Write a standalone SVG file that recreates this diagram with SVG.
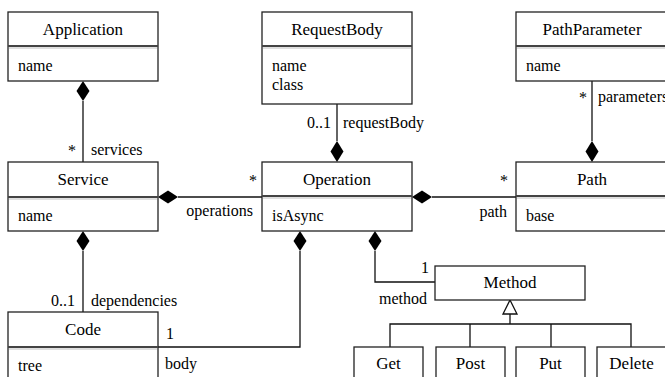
<svg xmlns="http://www.w3.org/2000/svg" width="665" height="377" viewBox="0 0 665 377" font-family="Liberation Serif, Times New Roman, serif">
<rect width="665" height="377" fill="#fff"/>

<g id="connectors">
<g fill="none" stroke="#111" stroke-width="1.3">
<path d="M83,101 V162"/>
<path d="M337,104 V141"/>
<path d="M592,81 V141"/>
<path d="M178,197 H262"/>
<path d="M432,197 H516"/>
<path d="M83,251 V312"/>
<path d="M300,251 V347 H158"/>
<path d="M375,251 V282 H435"/>
<path d="M510,314 V324"/>
<path d="M390,347 V324 H631 V347 M470,324 V347 M551,324 V347"/>
</g>
<g fill="#000">
<polygon points="83,81 89.5,91 83,101 76.5,91"/>
<polygon points="337,162 343.5,151.5 337,141 330.5,151.5"/>
<polygon points="592,162 598.5,151.5 592,141 585.5,151.5"/>
<polygon points="158,197 168,190.5 178,197 168,203.5"/>
<polygon points="412,197 422,190.5 432,197 422,203.5"/>
<polygon points="83,231 89.5,241 83,251 76.5,241"/>
<polygon points="300,231 306.5,241 300,251 293.5,241"/>
<polygon points="375,231 381.5,241 375,251 368.5,241"/>
</g>
<polygon points="510,300 517,314 503,314" fill="#fff" stroke="#111" stroke-width="1.3"/>
<text x="76" y="156" font-family="Liberation Serif" font-size="16" text-anchor="end">*</text>
<text x="331" y="128" font-family="Liberation Serif" font-size="16" text-anchor="end">0..1</text>
<text x="587" y="103" font-family="Liberation Serif" font-size="16" text-anchor="end">*</text>
<text x="257" y="186" font-family="Liberation Serif" font-size="16" text-anchor="end">*</text>
<text x="253" y="216" font-family="Liberation Serif" font-size="16" text-anchor="end">operations</text>
<text x="508" y="186" font-family="Liberation Serif" font-size="16" text-anchor="end">*</text>
<text x="507" y="217" font-family="Liberation Serif" font-size="16" text-anchor="end">path</text>
<text x="75" y="306" font-family="Liberation Serif" font-size="16" text-anchor="end">0..1</text>
<text x="427" y="304" font-family="Liberation Serif" font-size="16" text-anchor="end">method</text>
<text x="91" y="155" font-family="Liberation Serif" font-size="16">services</text>
<text x="343" y="128" font-family="Liberation Serif" font-size="16">requestBody</text>
<text x="598" y="102" font-family="Liberation Serif" font-size="16">parameters</text>
<text x="91" y="306" font-family="Liberation Serif" font-size="16">dependencies</text>
<text x="166" y="339" font-family="Liberation Serif" font-size="16">1</text>
<text x="165" y="369" font-family="Liberation Serif" font-size="16">body</text>
<text x="421" y="273" font-family="Liberation Serif" font-size="16">1</text>
</g>

<g id="Application">
<rect x="8" y="12" width="150" height="69" fill="#fff" stroke="#222" stroke-width="1.3"/>
<line x1="8" y1="46" x2="158" y2="46" stroke="#444" stroke-width="2"/><line x1="9" y1="48" x2="157" y2="48" stroke="#d4d4d4" stroke-width="1.5"/>
<text x="83" y="35" font-family="Liberation Serif" font-size="17" text-anchor="middle">Application</text>
<text x="18" y="71" font-family="Liberation Serif" font-size="16">name</text>
</g>

<g id="RequestBody">
<rect x="262" y="12" width="150" height="92" fill="#fff" stroke="#222" stroke-width="1.3"/>
<line x1="262" y1="46" x2="412" y2="46" stroke="#444" stroke-width="2"/><line x1="263" y1="48" x2="411" y2="48" stroke="#d4d4d4" stroke-width="1.5"/>
<text x="337" y="35" font-family="Liberation Serif" font-size="17" text-anchor="middle">RequestBody</text>
<text x="272" y="71" font-family="Liberation Serif" font-size="16">name</text>
<text x="272" y="90" font-family="Liberation Serif" font-size="16">class</text>
</g>

<g id="PathParameter">
<rect x="516" y="12" width="151" height="69" fill="#fff" stroke="#222" stroke-width="1.3"/>
<line x1="516" y1="46" x2="667" y2="46" stroke="#444" stroke-width="2"/><line x1="517" y1="48" x2="667" y2="48" stroke="#d4d4d4" stroke-width="1.5"/>
<text x="592" y="35" font-family="Liberation Serif" font-size="17" text-anchor="middle">PathParameter</text>
<text x="526" y="71" font-family="Liberation Serif" font-size="16">name</text>
</g>

<g id="Service">
<rect x="8" y="162" width="150" height="69" fill="#fff" stroke="#222" stroke-width="1.3"/>
<line x1="8" y1="197" x2="158" y2="197" stroke="#444" stroke-width="2"/><line x1="9" y1="199" x2="157" y2="199" stroke="#d4d4d4" stroke-width="1.5"/>
<text x="83" y="185" font-family="Liberation Serif" font-size="17" text-anchor="middle">Service</text>
<text x="18" y="221" font-family="Liberation Serif" font-size="16">name</text>
</g>

<g id="Operation">
<rect x="262" y="162" width="150" height="69" fill="#fff" stroke="#222" stroke-width="1.3"/>
<line x1="262" y1="196" x2="412" y2="196" stroke="#444" stroke-width="2"/><line x1="263" y1="198" x2="411" y2="198" stroke="#d4d4d4" stroke-width="1.5"/>
<text x="337" y="185" font-family="Liberation Serif" font-size="17" text-anchor="middle">Operation</text>
<text x="272" y="221" font-family="Liberation Serif" font-size="16">isAsync</text>
</g>

<g id="Path">
<rect x="516" y="162" width="151" height="69" fill="#fff" stroke="#222" stroke-width="1.3"/>
<line x1="516" y1="196" x2="667" y2="196" stroke="#444" stroke-width="2"/><line x1="517" y1="198" x2="667" y2="198" stroke="#d4d4d4" stroke-width="1.5"/>
<text x="592" y="185" font-family="Liberation Serif" font-size="17" text-anchor="middle">Path</text>
<text x="526" y="221" font-family="Liberation Serif" font-size="16">base</text>
</g>

<g id="Code">
<rect x="8" y="312" width="150" height="70" fill="#fff" stroke="#222" stroke-width="1.3"/>
<line x1="8" y1="347" x2="158" y2="347" stroke="#444" stroke-width="2"/><line x1="9" y1="349" x2="157" y2="349" stroke="#d4d4d4" stroke-width="1.5"/>
<text x="83" y="335" font-family="Liberation Serif" font-size="17" text-anchor="middle">Code</text>
<text x="18" y="371" font-family="Liberation Serif" font-size="16">tree</text>
</g>

<g id="Method">
<rect x="435" y="266" width="150" height="34" fill="#fff" stroke="#222" stroke-width="1.3"/>
<text x="510" y="288" font-family="Liberation Serif" font-size="17" text-anchor="middle">Method</text>
</g>

<g id="Get">
<rect x="354" y="347" width="69" height="35" fill="#fff" stroke="#222" stroke-width="1.3"/>
<text x="388.5" y="369" font-family="Liberation Serif" font-size="17" text-anchor="middle">Get</text>
</g>
<g id="Post">
<rect x="436" y="347" width="69" height="35" fill="#fff" stroke="#222" stroke-width="1.3"/>
<text x="470.5" y="369" font-family="Liberation Serif" font-size="17" text-anchor="middle">Post</text>
</g>
<g id="Put">
<rect x="516" y="347" width="69" height="35" fill="#fff" stroke="#222" stroke-width="1.3"/>
<text x="550.5" y="369" font-family="Liberation Serif" font-size="17" text-anchor="middle">Put</text>
</g>
<g id="Delete">
<rect x="597" y="347" width="69" height="35" fill="#fff" stroke="#222" stroke-width="1.3"/>
<text x="631.5" y="369" font-family="Liberation Serif" font-size="17" text-anchor="middle">Delete</text>
</g>
</svg>
